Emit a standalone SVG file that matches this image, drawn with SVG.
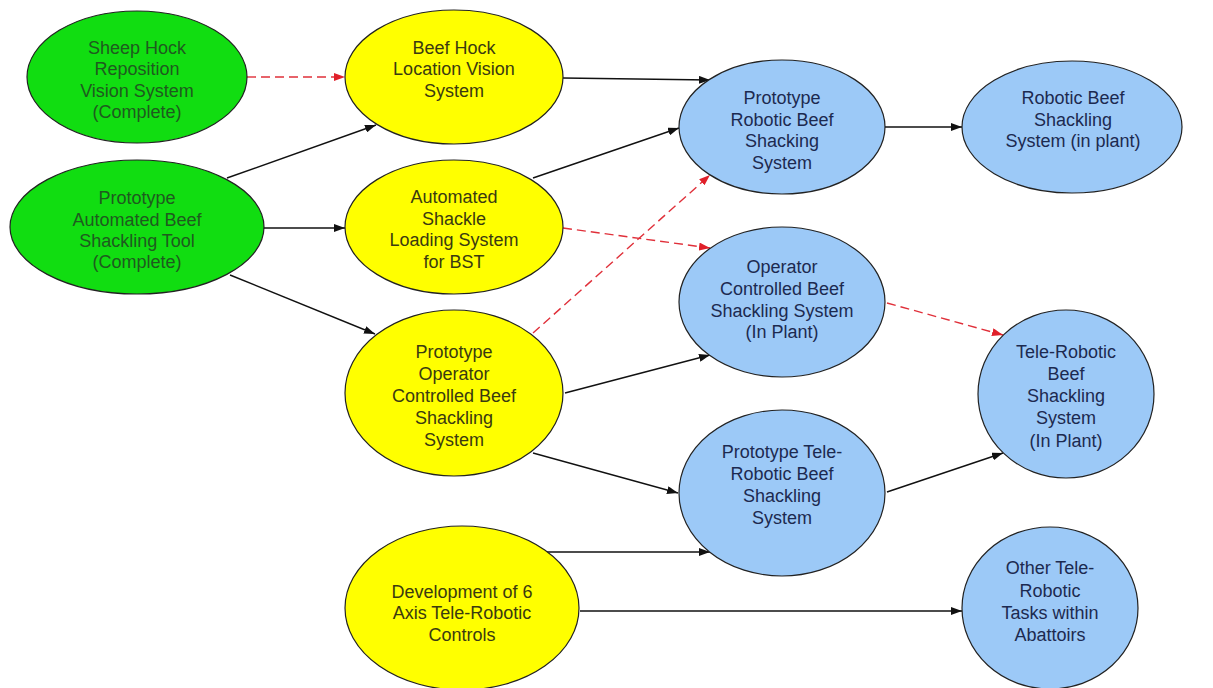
<svg xmlns="http://www.w3.org/2000/svg" width="1213" height="688" viewBox="0 0 1213 688">
<defs>
<style>
.n ellipse{stroke:#222;stroke-width:1.2}
.g ellipse{fill:#11dd11}
.y ellipse{fill:#ffff00}
.b ellipse{fill:#9cc9f7}
text{font-family:"Liberation Sans",Arial,sans-serif;font-size:18px;text-anchor:middle}
.g text{fill:#1f5a1f}
.y text{fill:#3a3a10}
.b text{fill:#1c2a50}
.k{stroke:#111;stroke-width:1.4;fill:none;marker-end:url(#ak)}
.r{stroke:#e0303a;stroke-width:1.4;fill:none;stroke-dasharray:9 5;marker-end:url(#ar)}
</style>
<marker id="ak" markerUnits="userSpaceOnUse" markerWidth="12" markerHeight="8" refX="11" refY="4" orient="auto"><path d="M0,0 L11,4 L0,8 z" fill="#111"/></marker>
<marker id="ar" markerUnits="userSpaceOnUse" markerWidth="12" markerHeight="8" refX="11" refY="4" orient="auto"><path d="M0,0 L11,4 L0,8 z" fill="#e0202a"/></marker>
</defs>
<rect width="1213" height="688" fill="#fff"/>
<g id="connectors">
<line class="r" x1="247" y1="77" x2="345" y2="77"/>
<line class="k" x1="227" y1="178" x2="376" y2="125"/>
<line class="k" x1="263" y1="228" x2="345" y2="228"/>
<line class="k" x1="230" y1="275" x2="375" y2="334"/>
<line class="k" x1="563" y1="78" x2="710" y2="80"/>
<line class="k" x1="533" y1="178" x2="679" y2="128"/>
<line class="k" x1="885" y1="127" x2="962" y2="127"/>
<line class="r" x1="563" y1="228" x2="710" y2="248"/>
<line class="r" x1="533" y1="333" x2="710" y2="175"/>
<line class="k" x1="565" y1="393" x2="710" y2="355"/>
<line class="k" x1="533" y1="453" x2="678" y2="493"/>
<line class="r" x1="887" y1="303" x2="1003" y2="335"/>
<line class="k" x1="887" y1="492" x2="1003" y2="453"/>
<line class="k" x1="547" y1="552" x2="710" y2="552"/>
<line class="k" x1="580" y1="611" x2="962" y2="611"/>
</g>
<g id="sheep-hock" class="n g">
<ellipse cx="137" cy="77" rx="110" ry="66"/>
<text x="137" y="54">Sheep Hock</text>
<text x="137" y="75">Reposition</text>
<text x="137" y="97">Vision System</text>
<text x="137" y="118">(Complete)</text>
</g>
<g id="proto-automated" class="n g">
<ellipse cx="137" cy="227" rx="127" ry="67"/>
<text x="137" y="204">Prototype</text>
<text x="137" y="226">Automated Beef</text>
<text x="137" y="247">Shackling Tool</text>
<text x="137" y="268">(Complete)</text>
</g>
<g id="beef-hock" class="n y">
<ellipse cx="454" cy="77" rx="109" ry="67"/>
<text x="454" y="54">Beef Hock</text>
<text x="454" y="75">Location Vision</text>
<text x="454" y="97">System</text>
</g>
<g id="auto-shackle" class="n y">
<ellipse cx="454" cy="227" rx="109" ry="67"/>
<text x="454" y="203">Automated</text>
<text x="454" y="225">Shackle</text>
<text x="454" y="246">Loading System</text>
<text x="454" y="268">for BST</text>
</g>
<g id="proto-operator" class="n y">
<ellipse cx="454" cy="393" rx="109" ry="83"/>
<text x="454" y="358">Prototype</text>
<text x="454" y="380">Operator</text>
<text x="454" y="402">Controlled Beef</text>
<text x="454" y="424">Shackling</text>
<text x="454" y="446">System</text>
</g>
<g id="development" class="n y">
<ellipse cx="462" cy="608" rx="117" ry="82"/>
<text x="462" y="598">Development of 6</text>
<text x="462" y="619">Axis Tele-Robotic</text>
<text x="462" y="641">Controls</text>
</g>
<g id="proto-robotic" class="n b">
<ellipse cx="782" cy="127" rx="103" ry="67"/>
<text x="782" y="104">Prototype</text>
<text x="782" y="126">Robotic Beef</text>
<text x="782" y="147">Shacking</text>
<text x="782" y="169">System</text>
</g>
<g id="robotic-plant" class="n b">
<ellipse cx="1072" cy="127" rx="110" ry="66"/>
<text x="1073" y="104">Robotic Beef</text>
<text x="1073" y="126">Shackling</text>
<text x="1073" y="147">System (in plant)</text>
</g>
<g id="operator-plant" class="n b">
<ellipse cx="782" cy="302" rx="103" ry="75"/>
<text x="782" y="273">Operator</text>
<text x="782" y="295">Controlled Beef</text>
<text x="782" y="317">Shackling System</text>
<text x="782" y="338">(In Plant)</text>
</g>
<g id="tele-plant" class="n b">
<ellipse cx="1066" cy="394" rx="88" ry="84"/>
<text x="1066" y="358">Tele-Robotic</text>
<text x="1066" y="380">Beef</text>
<text x="1066" y="402">Shackling</text>
<text x="1066" y="424">System</text>
<text x="1066" y="447">(In Plant)</text>
</g>
<g id="proto-tele" class="n b">
<ellipse cx="782" cy="493" rx="103" ry="83"/>
<text x="782" y="458">Prototype Tele-</text>
<text x="782" y="480">Robotic Beef</text>
<text x="782" y="502">Shackling</text>
<text x="782" y="524">System</text>
</g>
<g id="other-tele" class="n b">
<ellipse cx="1050" cy="608" rx="88" ry="81"/>
<text x="1050" y="574">Other Tele-</text>
<text x="1050" y="597">Robotic</text>
<text x="1050" y="619">Tasks within</text>
<text x="1050" y="641">Abattoirs</text>
</g>
</svg>
